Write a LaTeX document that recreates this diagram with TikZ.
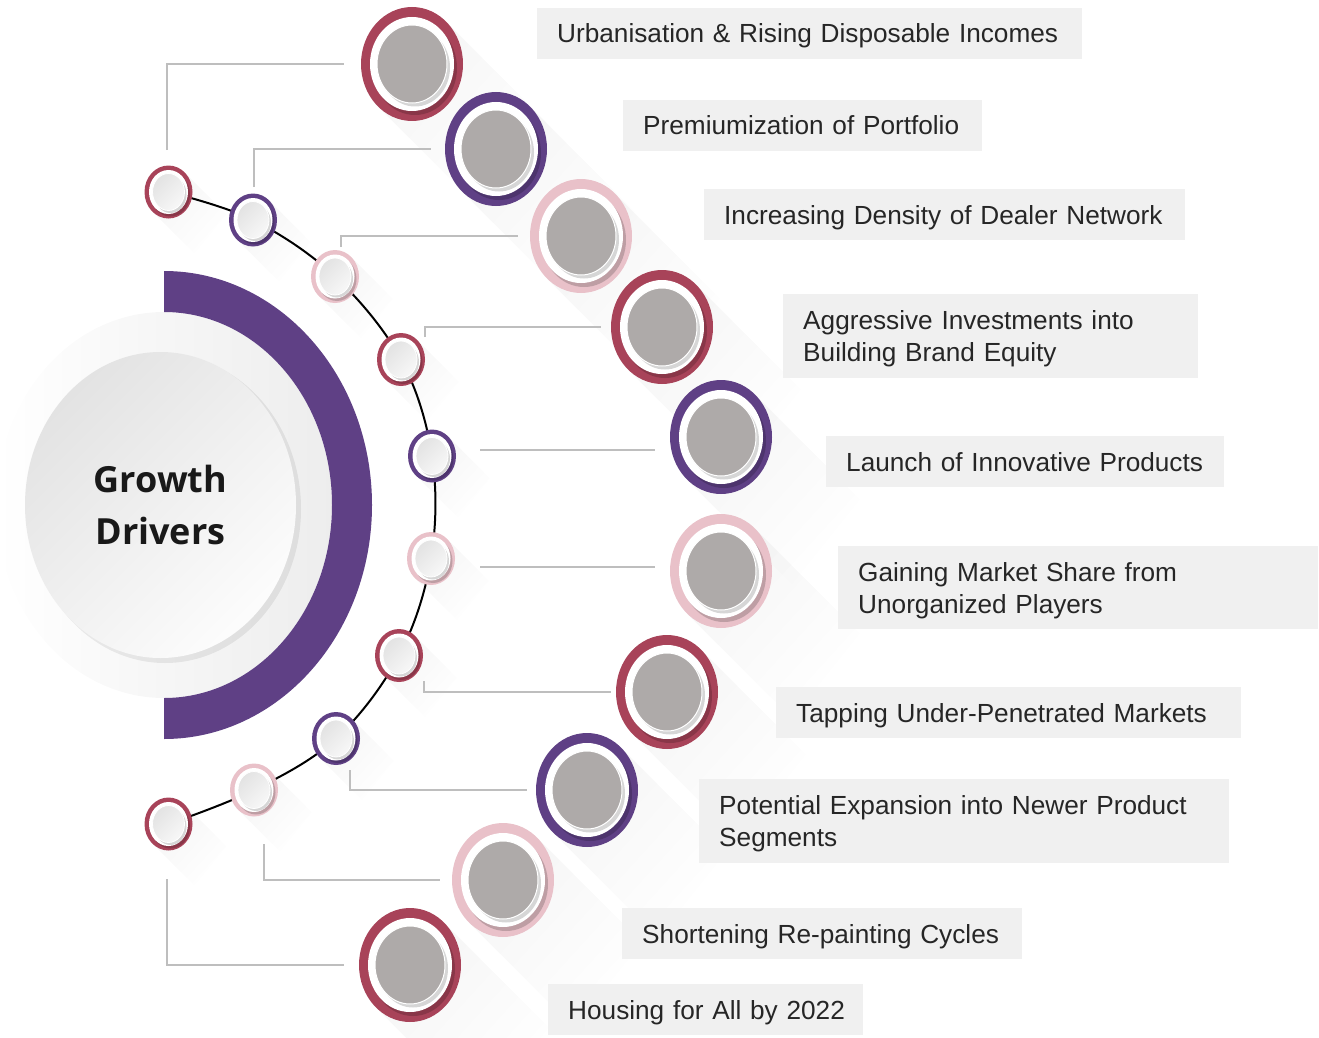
\documentclass[tikz,border=0pt]{standalone}
\usepackage{fontspec}
\setmainfont{Liberation Sans}
\newfontfamily\gdfont{Open Sans}
\usetikzlibrary{shapes.geometric,calc,fadings}
\definecolor{cred}{RGB}{168,67,89}
\definecolor{cpur}{RGB}{95,64,133}
\definecolor{cpink}{RGB}{233,193,201}
\definecolor{cgray}{RGB}{174,170,169}
\definecolor{cbox}{RGB}{240,240,240}
\definecolor{cline}{RGB}{190,190,190}
\definecolor{ctext}{RGB}{38,38,38}
\pgfdeclarelayer{bg}
\pgfdeclarelayer{mid}
\pgfsetlayers{bg,mid,main}
\newcommand{\nb}[1]{\mbox{#1}}
\newcommand{\lsh}[4]{\fill[black,opacity=.04,path fading=east,fading angle=-45]
  ($(#1.center)+(#2,-#3)$) -- ++(#4,#4) -- ++(-2*#2,2*#3) -- ($(#1.center)+(-#2,#3)$) -- cycle;}
\begin{document}
\begin{tikzpicture}[x=1pt,y=-1pt,
  bigc/.style={ellipse,inner sep=0pt,outer sep=0pt,minimum width=102pt,minimum height=114pt,fill=#1,
    path picture={
      \fill[black,opacity=.18] ([shift={(3pt,-4pt)}]path picture bounding box.center) ellipse (42pt and 47pt);
      \fill[white] (path picture bounding box.center) ellipse (42pt and 47pt);
      \fill[black,opacity=.16] ([shift={(3pt,-3.5pt)}]path picture bounding box.center) ellipse (35pt and 39pt);
      \fill[cgray] (path picture bounding box.center) ellipse (35pt and 39pt);
      \draw[white,line width=1pt] (path picture bounding box.center) ellipse (35pt and 39pt);
    }},
  smallc/.style={ellipse,inner sep=0pt,outer sep=0pt,minimum width=48pt,minimum height=53pt,fill=#1,
    path picture={
      \fill[black,opacity=.18] ([shift={(2pt,-2.5pt)}]path picture bounding box.center) ellipse (19.5pt and 22pt);
      \fill[white] (path picture bounding box.center) ellipse (19.5pt and 22pt);
      \fill[black,opacity=.16] ([shift={(2pt,-2.5pt)}]path picture bounding box.center) ellipse (16pt and 18.5pt);
      \shade[top color=black!11,bottom color=black!3,shading angle=45] (path picture bounding box.center) ellipse (16pt and 18.5pt);
      \draw[white,line width=.8pt] (path picture bounding box.center) ellipse (16pt and 18.5pt);
    }},
  conn/.style={draw=cline,line width=1.4pt},
  tbox/.style={fill=cbox,inner xsep=20pt,inner ysep=0pt,align=left,anchor=north west,
    font=\fontsize{26.2}{32}\selectfont,text=ctext,text height=18.6pt,text depth=0pt},
  tbox2/.style={tbox,text depth=32pt}
]
\useasboundingbox (0,0) rectangle (1319,1038);

% central disc and purple band
\begin{pgfonlayer}{bg}
  \shade[left color=white,right color=black!7] (164,505) ellipse (168 and 193);
  \fill[black,opacity=.07] (165,509) ellipse (136 and 154);
  \shade[top color=black!11,bottom color=black!1,shading angle=45] (160.5,505) ellipse (135.5 and 153);
  \fill[cpur] (164,271) arc[start angle=-90,end angle=90,x radius=208,y radius=234]
     -- (164,698) arc[start angle=90,end angle=-90,x radius=168,y radius=193] -- cycle;
\end{pgfonlayer}
\node[text width=220pt,align=center,font=\gdfont\bfseries\fontsize{36}{52}\selectfont,text=black!90,
  inner sep=0pt,text height=26pt,text depth=52pt] (gd) at (160.5,505) {Growth\\Drivers};

% big circles
\node[bigc=cred]  (b1)  at (412,64) {};
\node[bigc=cpur]  (b2)  at (496,149) {};
\node[bigc=cpink] (b3)  at (581,236) {};
\node[bigc=cred]  (b4)  at (662,327) {};
\node[bigc=cpur]  (b5)  at (721,437) {};
\node[bigc=cpink] (b6)  at (721,571) {};
\node[bigc=cred]  (b7)  at (667,692) {};
\node[bigc=cpur]  (b8)  at (587,790) {};
\node[bigc=cpink] (b9)  at (503,880) {};
\node[bigc=cred]  (b10) at (410,965) {};

% small circles
\node[smallc=cred]  (s1)  at (168.5,192) {};
\node[smallc=cpur]  (s2)  at (253,220) {};
\node[smallc=cpink] (s3)  at (335,276.5) {};
\node[smallc=cred]  (s4)  at (401,359.5) {};
\node[smallc=cpur]  (s5)  at (432,456) {};
\node[smallc=cpink] (s6)  at (431,558.5) {};
\node[smallc=cred]  (s7)  at (399,655.5) {};
\node[smallc=cpur]  (s8)  at (336,738.5) {};
\node[smallc=cpink] (s9)  at (254,790) {};
\node[smallc=cred]  (s10) at (168.5,824) {};

\begin{pgfonlayer}{mid}
  \foreach \n in {b1,b2,b3,b4,b5,b6,b7,b8,b9,b10}{\lsh{\n}{34}{42.5}{105}}
  \foreach \n in {s1,s2,s3,s4,s5,s6,s7,s8,s9,s10}{\lsh{\n}{16}{19.6}{42}}
  \draw[line width=2pt] plot[smooth,tension=.6] coordinates {(s1.center) (s2.center) (s3.center) (s4.center) (s5.center) (s6.center) (s7.center) (s8.center) (s9.center) (s10.center)};
  \draw[conn] ($(s1.center)+(-1.5,-42)$) |- ([xshift=-17pt]b1.west);
  \draw[conn] ($(s2.center)+(1,-33)$) |- ([xshift=-14pt]b2.west);
  \draw[conn] ($(s3.center)+(6,-29.5)$) |- ([xshift=-12pt]b3.west);
  \draw[conn] ($(s4.center)+(24,-22.5)$) |- ([xshift=-10pt]b4.west);
  \coordinate (e5) at ([xshift=-15pt]b5.west);
  \coordinate (e6) at ([xshift=-15pt]b6.west);
  \draw[conn] ($(s5.center)+(48,-6)$) coordinate (c5) -- (e5 |- c5);
  \draw[conn] ($(s6.center)+(49,8.5)$) coordinate (c6) -- (e6 |- c6);
  \draw[conn] ($(s7.center)+(25,25.5)$) |- ([xshift=-5pt]b7.west);
  \draw[conn] ($(s8.center)+(14,31.5)$) |- ([xshift=-9pt]b8.west);
  \draw[conn] ($(s9.center)+(10,54)$) |- ([xshift=-12pt]b9.west);
  \draw[conn] ($(s10.center)+(-1.5,55)$) |- ([xshift=-15pt]b10.west);
\end{pgfonlayer}

% text boxes
\node[tbox,text width=505pt,minimum height=51pt] (t1) at (537,8) {\nb{Urbanisation \& Rising Disposable Incomes}};
\node[tbox,text width=319pt,minimum height=51pt] (t2) at (623,100) {\nb{Premiumization of Portfolio}};
\node[tbox,text width=441pt,minimum height=51pt] (t3) at (704,189) {\nb{Increasing Density of Dealer Network}};
\node[tbox2,text width=375pt,minimum height=84pt] (t4) at (783,294) {\nb{Aggressive Investments into}\\\nb{Building Brand Equity}};
\node[tbox,text width=358pt,minimum height=51pt] (t5) at (826,436) {\nb{Launch of Innovative Products}};
\node[tbox2,text width=440pt,minimum height=83pt] (t6) at (838,546) {\nb{Gaining Market Share from}\\\nb{Unorganized Players}};
\node[tbox,text width=425pt,minimum height=51pt] (t7) at (776,687) {\nb{Tapping Under-Penetrated Markets}};
\node[tbox2,text width=490pt,minimum height=84pt] (t8) at (699,779) {\nb{Potential Expansion into Newer Product}\\\nb{Segments}};
\node[tbox,text width=360pt,minimum height=51pt] (t9) at (622,908) {\nb{Shortening Re-painting Cycles}};
\node[tbox,text width=275pt,minimum height=51pt] (t10) at (548,984) {\nb{Housing for All by 2022}};
\end{tikzpicture}
\end{document}
